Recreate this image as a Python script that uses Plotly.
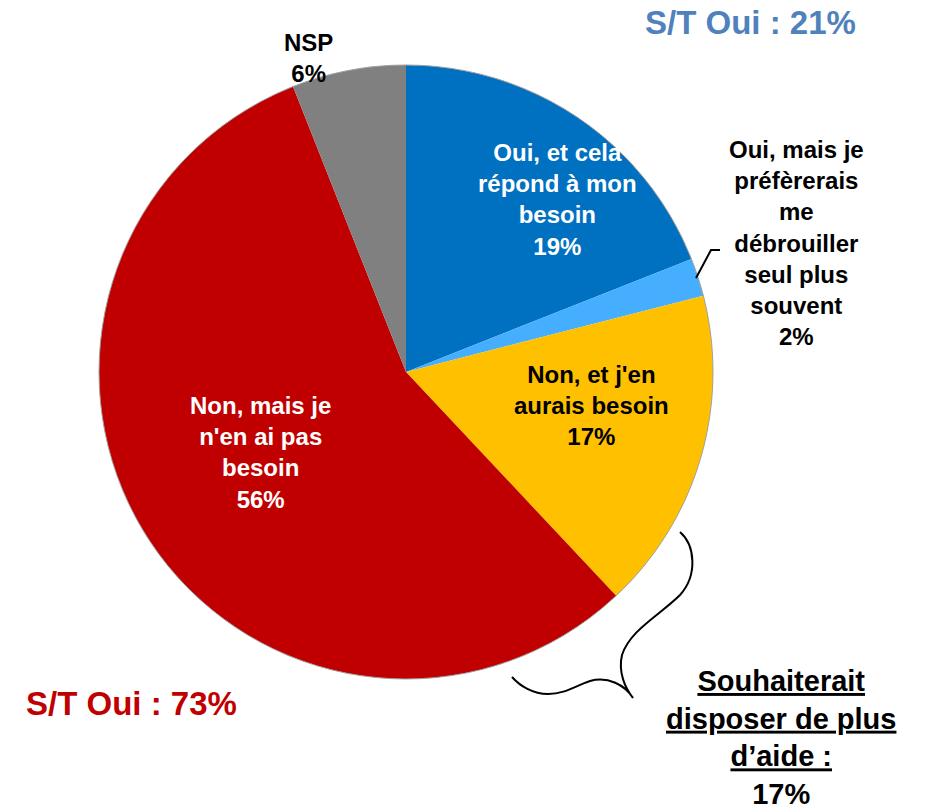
import plotly.graph_objects as go

categories = [
    "Oui, et cela répond à mon besoin",
    "Oui, mais je préfèrerais me débrouiller seul plus souvent",
    "Non, et j'en aurais besoin",
    "Non, mais je n'en ai pas besoin",
    "NSP",
]
values = [19, 2, 17, 56, 6]
colors = ["#0070C0", "#45AEFF", "#FFC000", "#C00000", "#808080"]
label_texts = [
    "Oui, et cela<br>répond à mon<br>besoin<br>19%",
    "Oui, mais je<br>préfèrerais<br>me<br>débrouiller<br>seul plus<br>souvent<br>2%",
    "Non, et j'en<br>aurais besoin<br>17%",
    "Non, mais je<br>n'en ai pas<br>besoin<br>56%",
    "NSP<br>6%",
]
label_colors = ["white", "black", "black", "white", "black"]
summary_oui = "S/T Oui : 21%"
summary_non = "S/T Oui : 73%"
souhait_text = "<u>Souhaiterait</u><br><u>disposer de plus</u><br><u>d’aide :</u><br>17%"

W, H = 926, 808
OFF = 8  # page body margin offset
cx, cy, r = 406, 372, 307

fig = go.Figure()
fig.add_trace(go.Pie(
    labels=categories,
    values=values,
    sort=False,
    direction="clockwise",
    rotation=0,
    marker=dict(colors=colors, line=dict(width=0)),
    textinfo="none",
    showlegend=False,
    domain=dict(x=[(cx - r - OFF) / W, (cx + r - OFF) / W],
                y=[1 - (cy + r - OFF) / H, 1 - (cy - r - OFF) / H]),
))

# pixel coordinate helper axes (reference pixel coordinates)
fig.update_layout(
    xaxis=dict(range=[OFF, W + OFF], visible=False, domain=[0, 1], fixedrange=True),
    yaxis=dict(range=[H + OFF, OFF], visible=False, domain=[0, 1], fixedrange=True),
)

FONT = "Liberation Sans, Arial, sans-serif"
label_pos = [(557, 199), (796, 243), (591, 405), (260, 452), (308, 58)]
for txt, col, (x, y) in zip(label_texts, label_colors, label_pos):
    fig.add_annotation(x=x, y=y, xref="x", yref="y", text=f"<b>{txt}</b>",
                       showarrow=False, font=dict(family=FONT, size=24, color=col),
                       align="center")

fig.add_annotation(x=750, y=22, xref="x", yref="y", text=f"<b>{summary_oui}</b>",
                   showarrow=False, font=dict(family=FONT, size=33, color="#4F81BD"))
fig.add_annotation(x=131, y=703, xref="x", yref="y", text=f"<b>{summary_non}</b>",
                   showarrow=False, font=dict(family=FONT, size=33, color="#C00000"))
fig.add_annotation(x=781, y=737, xref="x", yref="y", text=f"<b>{souhait_text}</b>",
                   showarrow=False, font=dict(family=FONT, size=29, color="black"),
                   align="center")

# outer border
fig.add_shape(type="circle", xref="x", yref="y", x0=cx - r, x1=cx + r, y0=cy - r, y1=cy + r,
              line=dict(color="#A0A0A0", width=1), layer="above")
# leader line
fig.add_shape(type="path", xref="x", yref="y",
              path="M 696 278 L 711 250 L 720 250",
              line=dict(color="black", width=2))
# brace
fig.add_shape(type="path", xref="x", yref="y",
              path=("M 680 532 C 695 545, 698 575, 680 595 "
                    "C 660 615, 630 630, 622 655 "
                    "C 618 672, 625 688, 633 698 "
                    "C 625 685, 608 676, 590 681 "
                    "C 575 686, 565 694, 548 694 "
                    "C 533 694, 520 686, 512 677"),
              line=dict(color="black", width=2))

fig.update_layout(
    width=W, height=H,
    margin=dict(l=0, r=0, t=0, b=0),
    paper_bgcolor="white", plot_bgcolor="white",
)

fig.write_html("out.html")
